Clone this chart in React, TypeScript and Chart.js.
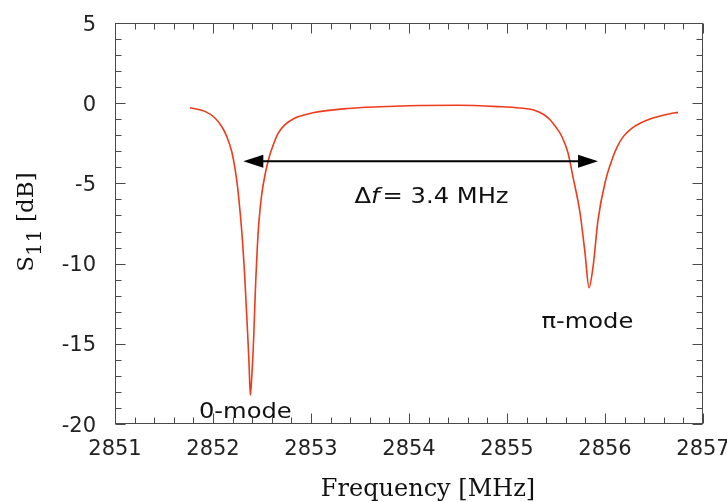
import React, { useEffect, useRef } from "react";
import { Chart, registerables } from "chart.js";

Chart.register(...registerables);

// ---- data ----
const frequencyMHz = [
  2851.765, 2851.918, 2852.02, 2852.089, 2852.14, 2852.191, 2852.224, 2852.252, 2852.276,
  2852.299, 2852.319, 2852.337, 2852.354, 2852.367, 2852.381, 2852.395, 2852.411, 2852.421,
  2852.436, 2852.452, 2852.469, 2852.497, 2852.531, 2852.571, 2852.615, 2852.666, 2852.735,
  2852.837, 2852.939, 2853.02, 2853.37, 2853.7, 2854.0, 2854.5, 2854.93, 2855.13,
  2855.265, 2855.37, 2855.439, 2855.5, 2855.561, 2855.622, 2855.673, 2855.745, 2855.796,
  2855.837, 2855.878, 2855.929, 2856.0, 2856.082, 2856.122, 2856.184, 2856.276, 2856.357,
  2856.459, 2856.561, 2856.663, 2856.745,
];
const s11dB = [
  -0.28, -0.51, -0.92, -1.45, -2.07, -3.01, -4.05, -5.29, -6.75,
  -8.41, -10.28, -12.37, -14.44, -16.1, -18.2, -17.1, -15.25, -13.6,
  -11.1, -9.0, -7.37, -5.7, -4.46, -3.42, -2.59, -1.86, -1.34,
  -0.92, -0.72, -0.59, -0.33, -0.22, -0.16, -0.13, -0.22, -0.3,
  -0.41, -0.69, -1.03, -1.5, -2.09, -3.09, -4.59, -6.83, -9.33,
  -11.5, -10.2, -7.27, -4.96, -3.34, -2.75, -2.1, -1.55, -1.25,
  -0.98, -0.8, -0.66, -0.57,
];
const xTickValues = [2851, 2852, 2853, 2854, 2855, 2856, 2857];
const yTickValues = [-20, -15, -10, -5, 0, 5];
const xMinorStep = 0.2;
const yMinorStep = 1;

const arrowFrom = 2852.309;
const arrowTo = 2855.929;
const arrowLevel = -3.62;

const deltaLabelX = 2854.23;
const deltaLabelY = -6.21;
const modeLabels = ["0-mode", "π-mode"];
const modeLabelX = [2852.33, 2855.82];
const modeLabelY = [-19.62, -14.0];

const xTitle = "Frequency [MHz]";

const SANS = '"DejaVu Sans", sans-serif';
const SERIF = '"DejaVu Serif", serif';

function stretchedText(ctx: any, text: string, x: number, y: number, sx: number, align: string) {
  const w = ctx.measureText(text).width * sx;
  let left = x;
  if (align === "center") left = x - w / 2;
  else if (align === "right") left = x - w;
  ctx.save();
  ctx.translate(left, y);
  ctx.scale(sx, 1);
  ctx.textAlign = "left";
  ctx.fillText(text, 0, 0);
  ctx.restore();
  return w;
}

const decor = {
  id: "decor",
  afterDraw(chart: any) {
    const { ctx, chartArea: a } = chart;
    const xs = chart.scales.x;
    const ys = chart.scales.y;
    ctx.save();
    // frame
    ctx.strokeStyle = "#4a4a4a";
    ctx.lineWidth = 1;
    const L = Math.round(a.left) + 0.5;
    const R = Math.round(a.right) - 0.5;
    const T = Math.round(a.top) + 0.5;
    const B = Math.round(a.bottom) - 0.5;
    ctx.strokeRect(L, T, R - L, B - T);
    ctx.beginPath();
    const nx = Math.round((xTickValues[xTickValues.length - 1] - xTickValues[0]) / xMinorStep);
    for (let i = 0; i <= nx; i++) {
      const v = xTickValues[0] + i * xMinorStep;
      const px = Math.round(xs.getPixelForValue(v)) + 0.5;
      const len = i % 5 === 0 ? 10 : 6;
      ctx.moveTo(px, B);
      ctx.lineTo(px, B - len);
      ctx.moveTo(px, T);
      ctx.lineTo(px, T + len);
    }
    const ny = Math.round((yTickValues[yTickValues.length - 1] - yTickValues[0]) / yMinorStep);
    for (let i = 0; i <= ny; i++) {
      const v = yTickValues[0] + i * yMinorStep;
      const py = Math.round(ys.getPixelForValue(v)) + 0.5;
      const len = i % 5 === 0 ? 10 : 6;
      ctx.moveTo(L, py);
      ctx.lineTo(L + len, py);
      ctx.moveTo(R, py);
      ctx.lineTo(R - len, py);
    }
    ctx.stroke();

    // tick labels, from the scales' own ticks
    ctx.fillStyle = "#222";
    ctx.font = `21px ${SANS}`;
    ctx.textBaseline = "alphabetic";
    ctx.textAlign = "center";
    for (const t of xs.ticks) {
      ctx.fillText(String(t.value), xs.getPixelForValue(t.value), a.bottom + 31);
    }
    ctx.textAlign = "right";
    for (const t of ys.ticks) {
      ctx.fillText(String(t.value), a.left - 19, ys.getPixelForValue(t.value) + 7.5);
    }

    // arrow
    const x1 = xs.getPixelForValue(arrowFrom);
    const x2 = xs.getPixelForValue(arrowTo);
    const ay = ys.getPixelForValue(arrowLevel);
    const head = 20;
    const hw = 6.5;
    ctx.strokeStyle = "#000";
    ctx.fillStyle = "#000";
    ctx.lineWidth = 2;
    ctx.beginPath();
    ctx.moveTo(x1 + head - 2, ay);
    ctx.lineTo(x2 - head + 2, ay);
    ctx.stroke();
    ctx.beginPath();
    ctx.moveTo(x1, ay);
    ctx.lineTo(x1 + head, ay - hw);
    ctx.lineTo(x1 + head, ay + hw);
    ctx.closePath();
    ctx.fill();
    ctx.beginPath();
    ctx.moveTo(x2, ay);
    ctx.lineTo(x2 - head, ay - hw);
    ctx.lineTo(x2 - head, ay + hw);
    ctx.closePath();
    ctx.fill();

    // delta f label
    const sx = 1.1;
    ctx.fillStyle = "#111";
    ctx.textBaseline = "alphabetic";
    const fs = 22;
    const partA = "Δ";
    const partB = "f";
    const partC = "= 3.4 MHz";
    ctx.font = `${fs}px ${SANS}`;
    const wA = ctx.measureText(partA).width * sx;
    const wC = ctx.measureText(partC).width * sx;
    ctx.font = `italic ${fs}px ${SANS}`;
    const wB = ctx.measureText(partB).width * sx + 3;
    const total = wA + wB + wC;
    let cx = xs.getPixelForValue(deltaLabelX) - total / 2;
    const cy = ys.getPixelForValue(deltaLabelY);
    ctx.font = `${fs}px ${SANS}`;
    stretchedText(ctx, partA, cx, cy, sx, "left");
    cx += wA;
    ctx.font = `italic ${fs}px ${SANS}`;
    stretchedText(ctx, partB, cx, cy, sx, "left");
    cx += wB;
    ctx.font = `${fs}px ${SANS}`;
    stretchedText(ctx, partC, cx, cy, sx, "left");

    // mode labels
    ctx.font = `${fs}px ${SANS}`;
    for (let i = 0; i < modeLabels.length; i++) {
      stretchedText(
        ctx,
        modeLabels[i],
        xs.getPixelForValue(modeLabelX[i]),
        ys.getPixelForValue(modeLabelY[i]),
        sx,
        "center"
      );
    }

    // x title
    ctx.font = `24px ${SERIF}`;
    ctx.fillStyle = "#111";
    ctx.textAlign = "center";
    ctx.fillText(xTitle, 428, 496);

    // y title with subscript
    ctx.translate(33, 222);
    ctx.rotate(-Math.PI / 2);
    ctx.font = `23px ${SERIF}`;
    const wS = ctx.measureText("S").width;
    const wD = ctx.measureText(" [dB]").width;
    ctx.font = `21px ${SERIF}`;
    const w11 = ctx.measureText("11").width;
    let tx = -(wS + w11 + wD) / 2;
    ctx.textAlign = "left";
    ctx.font = `23px ${SERIF}`;
    ctx.fillText("S", tx, 0);
    tx += wS;
    ctx.font = `21px ${SERIF}`;
    ctx.fillText("11", tx, 8);
    tx += w11;
    ctx.font = `23px ${SERIF}`;
    ctx.fillText(" [dB]", tx, 0);
    ctx.restore();
  },
};

export default function App() {
  const ref = useRef<HTMLCanvasElement | null>(null);
  useEffect(() => {
    if (!ref.current) return;
    const points = frequencyMHz.map((f, i) => ({ x: f, y: s11dB[i] }));
    const chart = new Chart(ref.current, {
      type: "line",
      data: {
        datasets: [
          {
            data: points,
            borderColor: "#ee3b1b",
            borderWidth: 1.6,
            pointRadius: 0,
            fill: false,
            cubicInterpolationMode: "monotone",
          },
        ],
      },
      options: {
        responsive: false,
        animation: false,
        devicePixelRatio: 1,
        layout: { padding: { top: 23, right: 24, left: 0, bottom: 0 } },
        plugins: { legend: { display: false }, tooltip: { enabled: false } },
        scales: {
          x: {
            type: "linear",
            min: 2851,
            max: 2857,
            afterBuildTicks: (s: any) => {
              s.ticks = xTickValues.map((v) => ({ value: v }));
            },
            ticks: { display: false },
            grid: { display: false, drawTicks: false },
            border: { display: false },
            afterFit: (s: any) => {
              s.height = 78;
            },
          },
          y: {
            type: "linear",
            min: -20,
            max: 5,
            afterBuildTicks: (s: any) => {
              s.ticks = yTickValues.map((v) => ({ value: v }));
            },
            ticks: { display: false },
            grid: { display: false, drawTicks: false },
            border: { display: false },
            afterFit: (s: any) => {
              s.width = 115;
            },
          },
        },
      },
      plugins: [decor],
    });
    return () => chart.destroy();
  }, []);
  return (
    <div style={{ position: "absolute", left: 0, top: 0, width: 727, height: 502, background: "#fff" }}>
      <canvas ref={ref} width={727} height={502} style={{ display: "block" }} />
    </div>
  );
}
